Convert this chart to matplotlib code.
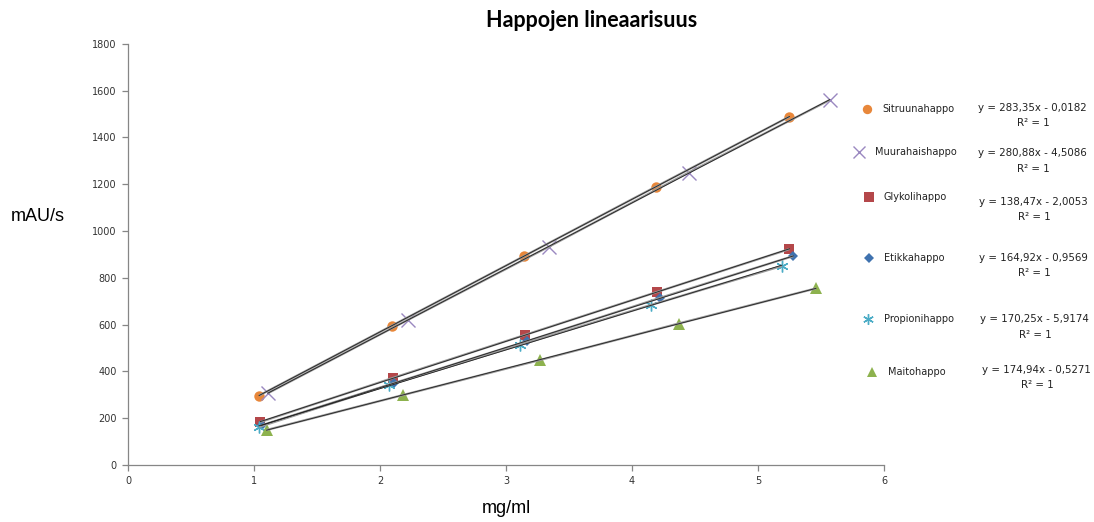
import numpy as np
import matplotlib
matplotlib.use("Agg")
import matplotlib.pyplot as plt

# Concentrations (mg/ml) and peak areas (mAU/s) for each acid
names = ["Sitruunahappo", "Muurahaishappo", "Glykolihappo",
         "Etikkahappo", "Propionihappo", "Maitohappo"]

x_sitruuna = [1.04, 2.095, 3.14, 4.19, 5.25]
y_sitruuna = [297, 596, 892, 1190, 1489]

x_muurahais = [1.11, 2.22, 3.34, 4.45, 5.57]
y_muurahais = [307, 620, 933, 1250, 1560]

x_glykoli = [1.05, 2.10, 3.15, 4.20, 5.25]
y_glykoli = [184, 372, 556, 740, 923]

x_etikka = [1.06, 2.11, 3.17, 4.22, 5.28]
y_etikka = [170, 350, 530, 714, 893]

x_propioni = [1.04, 2.07, 3.11, 4.15, 5.19]
y_propioni = [163, 342, 513, 684, 851]

x_maito = [1.10, 2.18, 3.27, 4.37, 5.46]
y_maito = [150, 299, 449, 605, 755]

equations = ["y = 283,35x - 0,0182", "y = 280,88x - 4,5086",
             "y = 138,47x - 2,0053", "y = 164,92x - 0,9569",
             "y = 170,25x - 5,9174", "y = 174,94x - 0,5271"]

xs = [x_sitruuna, x_muurahais, x_glykoli, x_etikka, x_propioni, x_maito]
ys = [y_sitruuna, y_muurahais, y_glykoli, y_etikka, y_propioni, y_maito]

colors = ["#E8873A", "#9A88C0", "#B4474A", "#3F72AF", "#4BACC6", "#8DB24E"]
markers = ["o", "x", "s", "D", (6, 2, 0), "^"]
msizes = [7.5, 9.5, 7.5, 5.5, 8.5, 8]
medge = [0, 1.0, 0, 0, 1.0, 0]

fig = plt.figure(figsize=(10.94, 5.22), dpi=100)
ax = fig.add_axes([0.117, 0.109, 0.691, 0.807])

for x, y, c, m, ms, mew in zip(xs, ys, colors, markers, msizes, medge):
    x = np.asarray(x, float)
    y = np.asarray(y, float)
    ax.plot(x, y, linestyle="none", marker=m, markersize=ms,
            color=c, markeredgewidth=mew,
            zorder=2, clip_on=False)
    # connecting line and linear trendline
    ax.plot(x, y, color="#9a9a9a", lw=1.6, zorder=3, solid_capstyle="butt")
    k, b = np.polyfit(x, y, 1)
    xx = np.array([x[0], x[-1]])
    ax.plot(xx, k * xx + b, color="#202020", lw=0.6, zorder=4)

ax.set_xlim(0, 6)
ax.set_ylim(0, 1800)
ax.set_xticks(range(0, 7))
ax.set_yticks(range(0, 1801, 200))
for s in ["top", "right"]:
    ax.spines[s].set_visible(False)
for s in ["left", "bottom"]:
    ax.spines[s].set_color("#868686")
    ax.spines[s].set_linewidth(0.9)
ax.tick_params(direction="out", length=4, width=0.9, color="#868686",
               labelsize=7, labelcolor="#333333", pad=4)

ax.set_xlabel("mg/ml", fontsize=13, family="Liberation Sans", labelpad=10)
fig.text(0.010, 0.585, "mAU/s", fontsize=13, family="Liberation Sans",
         va="center", ha="left")
fig.text(0.541, 0.960, "Happojen lineaarisuus", fontsize=15.5,
         family="Lato", weight="bold", ha="center", va="center")

# legend entries and regression equations on the right
W, H = 1094.0, 522.0
name_rows = [109, 152, 197, 258, 319, 372]
marker_x = [867, 859, 869, 869, 868, 872]
text_x = [882, 875, 884, 884, 884, 888]
eq_rows = [108, 153, 202, 258, 319, 370]
eq_x = [978, 978, 979, 979, 980, 982]

for i in range(6):
    fy = 1 - name_rows[i] / H
    ax.plot([marker_x[i] / W], [fy], transform=fig.transFigure,
            marker=markers[i], markersize=msizes[i] * 0.9, color=colors[i],
            markeredgewidth=medge[i], linestyle="none",
            clip_on=False)
    fig.text(text_x[i] / W, fy, names[i], fontsize=7, color="#222222",
             ha="left", va="center")
    ey = 1 - eq_rows[i] / H
    fig.text(eq_x[i] / W, ey, equations[i], fontsize=7.4, color="#222222",
             ha="left", va="center")
    fig.text((eq_x[i] + 55) / W, ey - 15.5 / H, "R² = 1", fontsize=7.4,
             color="#222222", ha="center", va="center")

fig.savefig("out.png", dpi=100)
